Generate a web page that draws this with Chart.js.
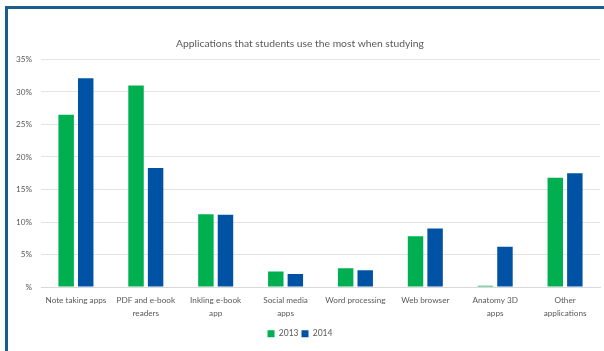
<!DOCTYPE html>
<html>
<head>
<meta charset="utf-8">
<script src="https://cdn.jsdelivr.net/npm/chart.js@4"></script>
<style>
  html, body { margin: 0; padding: 0; background: #fff; overflow: hidden; }
  canvas { display: block; }
</style>
</head>
<body>
<canvas id="appsChart" width="604" height="351"></canvas>
<script>
// Categories (multi-line labels as arrays)
const categories = [
  "Note taking apps",
  ["PDF and e-book", "readers"],
  ["Inkling e-book", "app"],
  ["Social media", "apps"],
  "Word processing",
  "Web browser",
  ["Anatomy 3D", "apps"],
  ["Other", "applications"],
];

// Percent of students
const values2013 = [26.5, 31.0, 11.2, 2.4, 2.9, 7.8, 0.2, 16.8];
const values2014 = [32.1, 18.3, 11.1, 2.0, 2.6, 9.0, 6.2, 17.5];

const seriesLabels = ["2013", "2014"];
const yTicks = [0, 5, 10, 15, 20, 25, 30, 35];

const textColor = "#595959";
const fontFamily = "Lato, 'Liberation Sans', sans-serif";

// blue frame on the left and top edges of the slide
const framePlugin = {
  id: "frame",
  afterDraw(chart) {
    const c = chart.ctx;
    c.save();
    c.strokeStyle = "#1b5e8e";
    c.lineWidth = 3;
    c.beginPath();
    c.moveTo(6.5, chart.height);
    c.lineTo(6.5, 7.5);
    c.lineTo(chart.width, 7.5);
    c.stroke();
    c.restore();
  },
};

document.addEventListener("DOMContentLoaded", function () {
  const ctx = document.getElementById("appsChart").getContext("2d");
  new Chart(ctx, {
    type: "bar",
    data: {
      labels: categories,
      datasets: [
        {
          label: seriesLabels[0],
          data: values2013,
          backgroundColor: "#00b050",
          categoryPercentage: 0.56,
          barPercentage: 0.79,
        },
        {
          label: seriesLabels[1],
          data: values2014,
          backgroundColor: "#0052a5",
          categoryPercentage: 0.56,
          barPercentage: 0.79,
        },
      ],
    },
    plugins: [framePlugin],
    options: {
      responsive: false,
      animation: false,
      layout: { padding: { left: 0, right: 4, top: 37, bottom: 3 } },
      plugins: {
        title: {
          display: true,
          text: "Applications that students use the most when studying",
          color: textColor,
          font: { family: fontFamily, size: 10.3, weight: "normal" },
          padding: { top: 0, bottom: 10 },
        },
        legend: {
          position: "bottom",
          labels: {
            color: textColor,
            font: { family: fontFamily, size: 8.5 },
            boxWidth: 7,
            boxHeight: 7,
            padding: 3,
          },
        },
        tooltip: { enabled: false },
      },
      scales: {
        x: {
          grid: { display: false, drawTicks: false },
          border: { color: "#d9d9d9" },
          ticks: {
            color: textColor,
            font: { family: fontFamily, size: 8.2, lineHeight: 1.55 },
            maxRotation: 0,
            autoSkip: false,
            padding: 7,
          },
        },
        y: {
          min: 0,
          max: 35,
          afterBuildTicks: (scale) => {
            scale.ticks = yTicks.map((v) => ({ value: v }));
          },
          afterFit: (scale) => {
            scale.width = 41;
          },
          grid: { color: "#e3e3e3", drawTicks: false },
          border: { display: false },
          ticks: {
            color: textColor,
            font: { family: fontFamily, size: 8.2 },
            padding: 9,
            callback: (v) => (v === 0 ? "%" : v + "%"),
          },
        },
      },
    },
  });
});
</script>
</body>
</html>
